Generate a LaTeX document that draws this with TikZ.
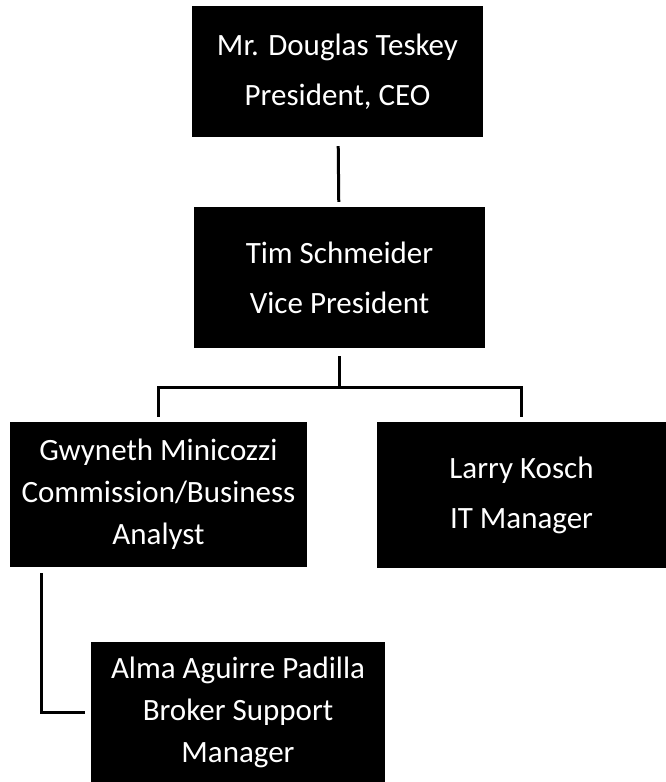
\documentclass[tikz,border=0pt]{standalone}
\usepackage{fontspec}
\setmainfont{Carlito}

\begin{document}
\begin{tikzpicture}[x=1pt,y=-1pt,
    post/.style={fill=black,text=white,inner sep=0pt,align=center,
      font=\fontsize{31}{50}\selectfont},
    tall/.style={font=\fontsize{31}{42}\selectfont},
    link/.style={line width=3pt}]
    \useasboundingbox (0,0) rectangle (666,782);
    \node[post,minimum width=291pt,minimum height=131pt] (ceo) at (337.5,71.5) {Mr. Douglas Teskey\\President, CEO};
    \node[post,minimum width=291pt,minimum height=141pt] (vp) at (339.5,277.5) {Tim Schmeider\\Vice President};
    \node[post,tall,minimum width=297pt,minimum height=145pt] (gm) at (158.5,494.5) {Gwyneth Minicozzi\\Commission/Business\\Analyst};
    \node[post,minimum width=289pt,minimum height=146pt] (lk) at (521.5,495) {Larry Kosch\\IT Manager};
    \node[post,tall,minimum width=294pt,minimum height=140pt] (aap) at (238,712) {Alma Aguirre Padilla\\Broker Support\\Manager};
    \coordinate (split) at (vp.center |- 0,387);
    \draw [link,shorten <=9pt,shorten >=5pt] (ceo) to (vp);
    \draw [link,shorten <=8pt] (vp) to (split);
    \draw [link,shorten >=5pt] (split) -| (gm);
    \draw [link,shorten >=5pt] (split) -| (lk);
    \draw [link,shorten <=6pt,shorten >=6pt] ([xshift=32pt]gm.south west) |- (aap);
\end{tikzpicture}
\end{document}
